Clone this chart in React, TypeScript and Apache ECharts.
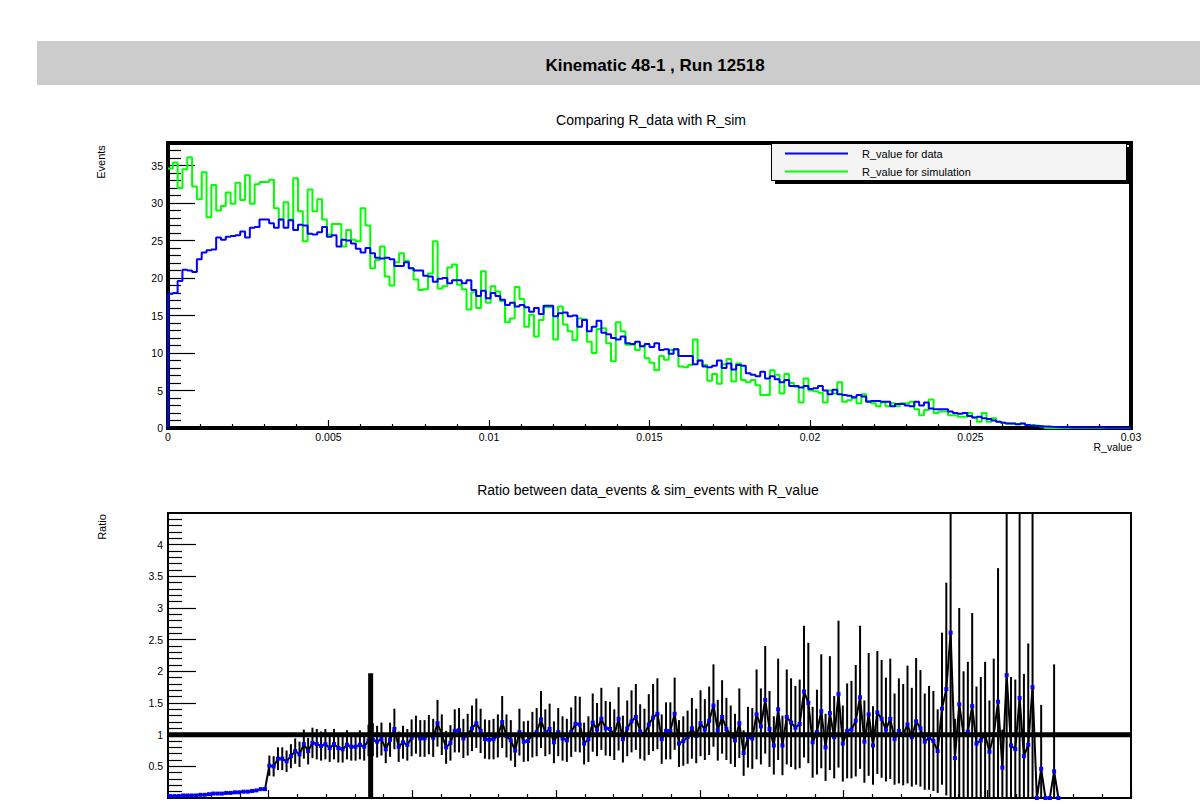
import { useEffect, useRef } from 'react';
import * as echarts from 'echarts';

// ---------- DATA ----------
const BIN_WIDTH = 0.00015; // histogram bin width (R_value)

// "R_value for data" (blue histogram), 200 bins from 0 to 0.03
const DATA_COUNTS = [
  17.9, 18.0, 19.6, 21.1, 21.0, 20.8, 22.5, 23.4, 23.7, 23.8,
  25.4, 25.1, 25.5, 25.6, 25.7, 26.2, 25.4, 26.7, 26.8, 27.8,
  27.8, 27.3, 26.7, 27.8, 26.7, 27.7, 26.4, 27.1, 27.0, 25.9,
  25.8, 26.1, 26.8, 25.5, 25.7, 24.2, 25.1, 25.0, 24.6, 23.9,
  23.4, 24.0, 23.3, 22.7, 22.6, 22.7, 22.5, 21.6, 21.6, 22.1,
  21.3, 21.0, 21.0, 20.3, 20.2, 19.5, 19.9, 20.0, 19.3, 19.7,
  19.7, 19.3, 19.7, 18.4, 17.6, 18.3, 17.3, 18.0, 17.6, 17.1,
  16.4, 16.7, 16.2, 16.4, 16.1, 15.5, 16.0, 15.2, 16.3, 16.3,
  14.9, 15.3, 15.4, 14.9, 15.0, 13.5, 14.4, 12.9, 13.5, 14.3,
  12.7, 12.5, 12.0, 11.8, 12.2, 11.3, 11.2, 11.5, 10.9, 11.2,
  10.8, 11.3, 10.4, 10.5, 9.9, 10.5, 9.6, 9.6, 9.6, 8.5,
  9.0, 8.2, 8.1, 8.3, 9.0, 8.0, 8.6, 7.8, 8.4, 8.3,
  7.3, 7.1, 6.9, 7.5, 6.6, 6.9, 6.5, 6.1, 6.4, 5.6,
  5.6, 5.4, 5.6, 5.2, 5.3, 5.6, 5.0, 4.5, 5.1, 4.5,
  4.4, 4.3, 4.1, 4.4, 4.2, 3.5, 3.6, 3.6, 3.5, 3.5,
  2.9, 3.2, 3.2, 3.0, 2.9, 3.5, 3.0, 3.4, 2.6, 2.5,
  2.5, 2.5, 2.2, 2.0, 1.9, 2.0, 1.6, 1.4, 1.5, 1.3,
  1.2, 1.0, 0.85, 0.7, 0.6, 0.6, 0.5, 0.6, 0.4, 0.3,
  0.27, 0.2, 0.2, 0.15, 0.12, 0.1, 0.1, 0.08, 0.1, 0.08,
  0.06, 0.07, 0.05, 0.06, 0.04, 0.05, 0.03, 0.04, 0.03, 0.02,
];

// "R_value for simulation" (green histogram), 200 bins from 0 to 0.03
const SIM_COUNTS = [
  34.6, 35.4, 32.0, 34.5, 36.1, 32.2, 30.5, 34.1, 28.1, 32.4,
  29.0, 29.6, 31.4, 29.9, 32.7, 30.4, 33.7, 29.9, 32.5, 32.8,
  32.8, 33.1, 29.3, 27.8, 30.1, 27.8, 33.3, 28.9, 24.9, 31.8,
  28.9, 30.5, 27.8, 25.8, 27.2, 27.2, 24.2, 26.4, 25.1, 24.9,
  29.3, 27.0, 21.3, 22.4, 24.2, 20.2, 19.0, 22.1, 23.3, 22.3,
  21.3, 19.8, 18.4, 18.5, 20.6, 24.9, 18.6, 18.9, 21.4, 21.8,
  19.1, 18.5, 15.8, 18.1, 16.0, 20.9, 16.7, 18.9, 18.2, 16.9,
  14.1, 14.6, 18.8, 17.2, 13.5, 15.1, 12.2, 14.4, 16.1, 16.1,
  11.8, 16.2, 13.8, 12.9, 11.7, 14.6, 14.5, 11.5, 10.0, 13.2,
  13.3, 11.3, 8.9, 14.1, 12.9, 11.1, 11.1, 10.4, 10.9, 9.3,
  8.7, 7.7, 9.6, 9.1, 10.4, 10.5, 8.2, 8.1, 8.4, 11.8,
  9.0, 8.4, 6.3, 7.2, 5.9, 8.5, 9.2, 6.2, 8.6, 6.4,
  6.1, 6.4, 5.7, 4.4, 4.4, 7.7, 7.1, 4.6, 7.2, 6.0,
  5.5, 3.4, 6.6, 5.0, 4.9, 4.7, 3.4, 5.0, 4.6, 6.1,
  3.5, 3.7, 4.0, 3.3, 4.5, 3.6, 3.3, 2.9, 3.4, 2.9,
  3.3, 2.9, 3.3, 3.3, 3.5, 2.5, 1.7, 2.4, 3.8, 2.0,
  2.2, 2.2, 1.7, 1.7, 1.5, 1.5, 2.0, 1.4, 0.85, 2.0,
  0.85, 1.3, 0.85, 0.7, 0.6, 0.6, 0.5, 0.6, 0.4, 0.4,
  0.3, 0.2, 0, 0, 0, 0, 0, 0, 0, 0,
  0, 0, 0, 0, 0, 0, 0, 0, 0, 0,
];

// Ratio graph: bins of BIN_WIDTH starting at RATIO_X_START
const RATIO_X_START = -0.0035;
const RATIO_VALUES = [
  0.03, 0.03, 0.03, 0.04, 0.04, 0.04, 0.04, 0.05, 0.05, 0.06,
  0.07, 0.07, 0.07, 0.08, 0.08, 0.09, 0.09, 0.1, 0.1, 0.11,
  0.12, 0.14, 0.14,
  0.51, 0.5, 0.62, 0.62, 0.58, 0.66, 0.74, 0.69, 0.85, 0.74,
  0.87, 0.85, 0.82, 0.85, 0.79, 0.85, 0.79,
  0.77, 0.84, 0.81, 0.81, 0.84, 0.81, 0.91, 0.92, 0.89, 0.93,
  0.77, 0.92, 1.09, 0.81, 0.88, 0.84, 0.95, 1.0, 0.94, 0.94,
  1.0, 0.95, 1.18, 1.0, 0.8, 0.87, 1.06, 1.07, 0.94, 1.0,
  1.1, 1.18, 1.06, 0.93, 0.92, 0.93, 0.98, 1.2, 0.98, 0.91,
  0.75, 1.04, 0.89, 0.9, 1.0, 1.04, 1.24, 1.03, 1.09, 0.88,
  1.04, 0.94, 0.91, 1.04, 1.17, 1.16, 0.86, 0.93, 1.19, 1.08,
  1.25, 1.1, 1.09, 1.0, 1.25, 0.93, 1.1, 1.21, 1.28, 1.05,
  1.0, 1.16, 1.27, 1.33, 0.93, 1.06, 1.06, 1.33, 0.86, 0.9,
  0.96, 1.1, 0.98, 1.18, 1.08, 1.22, 1.46, 1.07, 1.28, 1.09,
  1.0, 0.91, 1.18,
  0.71, 0.96, 0.94, 1.32, 1.13, 1.55, 1.09, 0.83, 1.4, 0.83,
  1.28, 1.19, 1.11, 1.17, 1.68, 1.5, 0.88, 1.04, 1.37, 0.8,
  1.34, 0.96, 1.64, 0.86, 1.06, 1.08, 1.22, 1.59, 0.89, 1.32,
  0.83, 1.35, 1.25, 1.08, 1.25, 0.93, 1.06, 1.0, 1.16, 0.96,
  1.21, 1.1, 0.89, 0.95, 0.9, 0.74, 1.41, 1.72, 2.61, 0.63,
  1.48, 1.0, 1.05, 1.45, 0.86, 0.91, 1.0, 0.73, 1.0, 1.52,
  0.48, 1.94, 0.83, 0.77, 1.58, 0.66, 0.84, 1.75, 0, 0.46,
  0, 0, 0.42, 0,
];
const RATIO_ERRORS = [
  0.01, 0.01, 0.01, 0.01, 0.01, 0.01, 0.01, 0.01, 0.01, 0.01,
  0.01, 0.01, 0.01, 0.01, 0.01, 0.01, 0.01, 0.01, 0.01, 0.01,
  0.01, 0.01, 0.01,
  0.16, 0.16, 0.18, 0.18, 0.17, 0.19, 0.2, 0.2, 0.23, 0.21,
  0.24, 0.24, 0.23, 0.24, 0.22, 0.24, 0.23,
  0.21, 0.23, 0.22, 0.22, 0.23, 0.22, 0.25, 0.26, 0.25, 0.26,
  0.22, 0.27, 0.32, 0.24, 0.26, 0.25, 0.29, 0.3, 0.29, 0.29,
  0.31, 0.3, 0.37, 0.32, 0.26, 0.28, 0.34, 0.35, 0.31, 0.33,
  0.36, 0.39, 0.35, 0.31, 0.31, 0.32, 0.34, 0.41, 0.34, 0.32,
  0.26, 0.37, 0.32, 0.32, 0.36, 0.38, 0.45, 0.37, 0.4, 0.33,
  0.38, 0.35, 0.34, 0.39, 0.44, 0.44, 0.33, 0.36, 0.46, 0.42,
  0.49, 0.43, 0.43, 0.4, 0.5, 0.37, 0.44, 0.49, 0.52, 0.43,
  0.41, 0.48, 0.53, 0.56, 0.39, 0.45, 0.45, 0.57, 0.37, 0.39,
  0.42, 0.48, 0.43, 0.52, 0.48, 0.54, 0.65, 0.48, 0.58, 0.49,
  0.46, 0.42, 0.55,
  0.36, 0.48, 0.48, 0.71, 0.6, 0.85, 0.6, 0.46, 0.8, 0.47,
  0.75, 0.7, 0.66, 0.7, 1.04, 0.95, 0.56, 0.67, 0.9, 0.53,
  0.9, 0.65, 1.16, 0.6, 0.75, 0.77, 0.88, 1.13, 0.65, 0.97,
  0.62, 0.97, 0.93, 0.82, 0.95, 0.72, 0.83, 0.8, 0.93, 0.78,
  1.0, 0.92, 0.76, 0.82, 0.79, 0.66, 1.2, 1.68, 2.9, 0.62,
  1.52, 1.0, 1.1, 1.47, 0.9, 1.0, 1.15, 0.81, 1.2, 2.11,
  0.6, 3.0, 1.08, 1.1, 3.0, 1.3, 1.6, 3.0, 0, 1.01,
  0, 0, 1.69, 0,
];

// reference line at ratio = 1, and the vertical cut marker
const REF_RATIO = 1;
const CUT_X = 0.00355;
const CUT_TOP = 1.97;

// axes
const TOP_X_RANGE = [0, 0.03];
const TOP_Y_RANGE = [0, 38];
const BOTTOM_X_RANGE = [-0.0035, 0.03];
const BOTTOM_Y_RANGE = [0, 4.5];
const X_TICKS = [0, 0.005, 0.01, 0.015, 0.02, 0.025, 0.03];
const X_TICK_LABELS = ['0', '0.005', '0.01', '0.015', '0.02', '0.025', '0.03'];
const TOP_X_MINOR = [0.001, 0.002, 0.003, 0.004, 0.006, 0.007, 0.008, 0.009, 0.011, 0.012, 0.013, 0.014,
  0.016, 0.017, 0.018, 0.019, 0.021, 0.022, 0.023, 0.024, 0.026, 0.027, 0.028, 0.029];
const BOTTOM_X_MINOR = [-0.003, -0.002, -0.001, ...TOP_X_MINOR];
const TOP_Y_TICKS = [0, 5, 10, 15, 20, 25, 30, 35];
const TOP_Y_LABELS = ['0', '5', '10', '15', '20', '25', '30', '35'];
const TOP_Y_MINOR = [1, 2, 3, 4, 6, 7, 8, 9, 11, 12, 13, 14, 16, 17, 18, 19, 21, 22, 23, 24,
  26, 27, 28, 29, 31, 32, 33, 34, 36, 37];
const BOTTOM_Y_TICKS = [0.5, 1, 1.5, 2, 2.5, 3, 3.5, 4];
const BOTTOM_Y_LABELS = ['0.5', '1', '1.5', '2', '2.5', '3', '3.5', '4'];
const BOTTOM_Y_MINOR = [0.1, 0.2, 0.3, 0.4, 0.6, 0.7, 0.8, 0.9, 1.1, 1.2, 1.3, 1.4, 1.6, 1.7, 1.8, 1.9,
  2.1, 2.2, 2.3, 2.4, 2.6, 2.7, 2.8, 2.9, 3.1, 3.2, 3.3, 3.4, 3.6, 3.7, 3.8, 3.9, 4.1, 4.2, 4.3, 4.4];

const MAIN_TITLE = 'Kinematic 48-1 , Run 12518';
const TOP_TITLE = 'Comparing R_data with R_sim';
const BOTTOM_TITLE = 'Ratio between data_events & sim_events with R_value';
const LEGEND_LABELS = ['R_value for data', 'R_value for simulation'];

const FONT = '"Liberation Sans", Arial, Helvetica, sans-serif';

function labelFor(ticks: number[], labels: string[]) {
  return (v: number) => {
    const i = ticks.findIndex((t) => Math.abs(t - v) < 1e-9);
    return i >= 0 ? labels[i] : '';
  };
}

function histSteps(counts: number[], fromZero: boolean) {
  const pts: number[][] = [];
  if (fromZero) pts.push([0, 0]);
  counts.forEach((v, i) => pts.push([i * BIN_WIDTH, v]));
  pts.push([counts.length * BIN_WIDTH, counts[counts.length - 1]]);
  return pts;
}

function majorAxis(grid: number, range: number[], ticks: number[], labels: string[], len: number, pos: string, fontSize: number, margin: number) {
  return {
    type: 'value', gridIndex: grid, position: pos, min: range[0], max: range[1],
    axisLine: { show: false, onZero: false }, splitLine: { show: false },
    axisTick: { show: true, inside: true, length: len, customValues: ticks, lineStyle: { color: '#000', width: 1.2 } },
    axisLabel: { show: true, customValues: ticks, formatter: labelFor(ticks, labels), color: '#000', fontSize, fontFamily: FONT, margin },
  };
}
function minorAxis(grid: number, range: number[], ticks: number[], len: number, pos: string) {
  return {
    type: 'value', gridIndex: grid, position: pos, min: range[0], max: range[1],
    axisLine: { show: false, onZero: false }, splitLine: { show: false }, axisLabel: { show: false },
    axisTick: { show: true, inside: true, length: len, customValues: ticks, lineStyle: { color: '#000', width: 1.2 } },
  };
}

export default function App() {
  const ref = useRef<HTMLDivElement>(null);
  useEffect(() => {
    const chart = echarts.init(ref.current as HTMLDivElement, undefined, { renderer: 'svg' });

    const ratioPoints = RATIO_VALUES.map((v, k) => [RATIO_X_START + BIN_WIDTH * (k + 0.5), v, RATIO_ERRORS[k]]);

    const option: any = {
      animation: false,
      backgroundColor: '#ffffff',
      grid: [
        { left: 168, top: 143, width: 963, height: 285, show: true, borderColor: '#000', borderWidth: 4, backgroundColor: 'rgba(0,0,0,0)', containLabel: false, outerBoundsMode: 'none' },
        { left: 168, top: 513, width: 963, height: 285, show: true, borderColor: '#000', borderWidth: 2, backgroundColor: 'rgba(0,0,0,0)', containLabel: false, outerBoundsMode: 'none' },
      ],
      xAxis: [
        majorAxis(0, TOP_X_RANGE, X_TICKS, X_TICK_LABELS, 8, 'bottom', 10.5, 3),
        minorAxis(0, TOP_X_RANGE, TOP_X_MINOR, 4, 'bottom'),
        majorAxis(1, BOTTOM_X_RANGE, X_TICKS, X_TICK_LABELS, 8, 'bottom', 10.5, 3),
        minorAxis(1, BOTTOM_X_RANGE, BOTTOM_X_MINOR, 4, 'bottom'),
      ],
      yAxis: [
        majorAxis(0, TOP_Y_RANGE, TOP_Y_TICKS, TOP_Y_LABELS, 27, 'left', 10.5, 5),
        minorAxis(0, TOP_Y_RANGE, TOP_Y_MINOR, 13, 'left'),
        majorAxis(1, BOTTOM_Y_RANGE, BOTTOM_Y_TICKS, BOTTOM_Y_LABELS, 28, 'left', 10.5, 5),
        minorAxis(1, BOTTOM_Y_RANGE, BOTTOM_Y_MINOR, 14, 'left'),
      ],
      series: [
        {
          name: LEGEND_LABELS[1], type: 'line', xAxisIndex: 0, yAxisIndex: 0, step: 'end',
          data: histSteps(SIM_COUNTS, false), symbol: 'none', clip: true, z: 2,
          lineStyle: { color: '#00ff00', width: 2 },
        },
        {
          name: LEGEND_LABELS[0], type: 'line', xAxisIndex: 0, yAxisIndex: 0, step: 'end',
          data: histSteps(DATA_COUNTS, true), symbol: 'none', clip: true, z: 3,
          lineStyle: { color: '#0000ff', width: 2 },
        },
        {
          name: 'errors', type: 'custom', xAxisIndex: 2, yAxisIndex: 2, z: 2,
          data: ratioPoints, encode: { x: 0, y: 1 },
          renderItem: (params: any, api: any) => {
            const x = api.value(0);
            const y = api.value(1);
            const e = api.value(2);
            if (!(e > 0)) return { type: 'group', children: [] };
            const top = api.coord([x, y + e]);
            const bot = api.coord([x, Math.max(y - e, BOTTOM_Y_RANGE[0])]);
            const cs = params.coordSys;
            const y1 = Math.max(top[1], cs.y);
            const y2 = Math.min(bot[1], cs.y + cs.height);
            return {
              type: 'line',
              shape: { x1: top[0], y1, x2: top[0], y2 },
              style: { stroke: '#000', lineWidth: 2 },
            };
          },
        },
        {
          name: 'ratio', type: 'line', xAxisIndex: 2, yAxisIndex: 2, z: 3,
          data: ratioPoints.map((p) => [p[0], p[1]]),
          symbol: 'rect', symbolSize: 4, clip: true,
          itemStyle: { color: '#0000ff' },
          lineStyle: { color: '#000', width: 2 },
        },
        {
          name: 'ref', type: 'line', xAxisIndex: 2, yAxisIndex: 2, z: 5,
          data: [[BOTTOM_X_RANGE[0], REF_RATIO], [BOTTOM_X_RANGE[1], REF_RATIO]],
          symbol: 'none', lineStyle: { color: '#000', width: 5 },
        },
        {
          name: 'cut', type: 'line', xAxisIndex: 2, yAxisIndex: 2, z: 5,
          data: [[CUT_X, BOTTOM_Y_RANGE[0]], [CUT_X, CUT_TOP]],
          symbol: 'none', lineStyle: { color: '#000', width: 5 },
        },
      ],
      graphic: [
        { type: 'rect', z: 0, shape: { x: 37, y: 41, width: 1163, height: 44 }, style: { fill: '#cccccc' } },
        {
          type: 'text', z: 10, x: 655, y: 65,
          style: { text: MAIN_TITLE, fontSize: 17, fontWeight: 'bold', fontFamily: FONT, fill: '#000', textAlign: 'center', textVerticalAlign: 'middle' },
        },
        {
          type: 'text', z: 10, x: 651, y: 120,
          style: { text: TOP_TITLE, fontSize: 14, fontFamily: FONT, fill: '#000', textAlign: 'center', textVerticalAlign: 'middle' },
        },
        {
          type: 'text', z: 10, x: 648, y: 490,
          style: { text: BOTTOM_TITLE, fontSize: 14, fontFamily: FONT, fill: '#000', textAlign: 'center', textVerticalAlign: 'middle' },
        },
        {
          type: 'text', z: 10, x: 101, y: 162, rotation: Math.PI / 2,
          style: { text: 'Events', fontSize: 11, fontFamily: FONT, fill: '#000', textAlign: 'center', textVerticalAlign: 'middle' },
        },
        {
          type: 'text', z: 10, x: 102, y: 527, rotation: Math.PI / 2,
          style: { text: 'Ratio', fontSize: 11, fontFamily: FONT, fill: '#000', textAlign: 'center', textVerticalAlign: 'middle' },
        },
        {
          type: 'text', z: 10, x: 1132, y: 447,
          style: { text: 'R_value', fontSize: 10.5, fontFamily: FONT, fill: '#000', textAlign: 'right', textVerticalAlign: 'middle' },
        },
        // legend
        { type: 'rect', z: 20, shape: { x: 775, y: 147, width: 355, height: 37 }, style: { fill: '#000' } },
        { type: 'rect', z: 21, shape: { x: 771.5, y: 143.5, width: 355, height: 37 }, style: { fill: '#f4f4f4', stroke: '#000', lineWidth: 1 } },
        { type: 'line', z: 22, shape: { x1: 785, y1: 153.5, x2: 848, y2: 153.5 }, style: { stroke: '#0000ff', lineWidth: 2 } },
        { type: 'line', z: 22, shape: { x1: 785, y1: 171.5, x2: 848, y2: 171.5 }, style: { stroke: '#00ff00', lineWidth: 2 } },
        {
          type: 'text', z: 22, x: 862, y: 153.5,
          style: { text: LEGEND_LABELS[0], fontSize: 11, fontFamily: FONT, fill: '#000', textAlign: 'left', textVerticalAlign: 'middle' },
        },
        {
          type: 'text', z: 22, x: 862, y: 171.5,
          style: { text: LEGEND_LABELS[1], fontSize: 11, fontFamily: FONT, fill: '#000', textAlign: 'left', textVerticalAlign: 'middle' },
        },
      ],
    };

    chart.setOption(option);
    return () => chart.dispose();
  }, []);

  return (
    <div
      ref={ref}
      style={{ position: 'absolute', left: 0, top: 0, width: 1200, height: 803, background: '#ffffff' }}
    />
  );
}
